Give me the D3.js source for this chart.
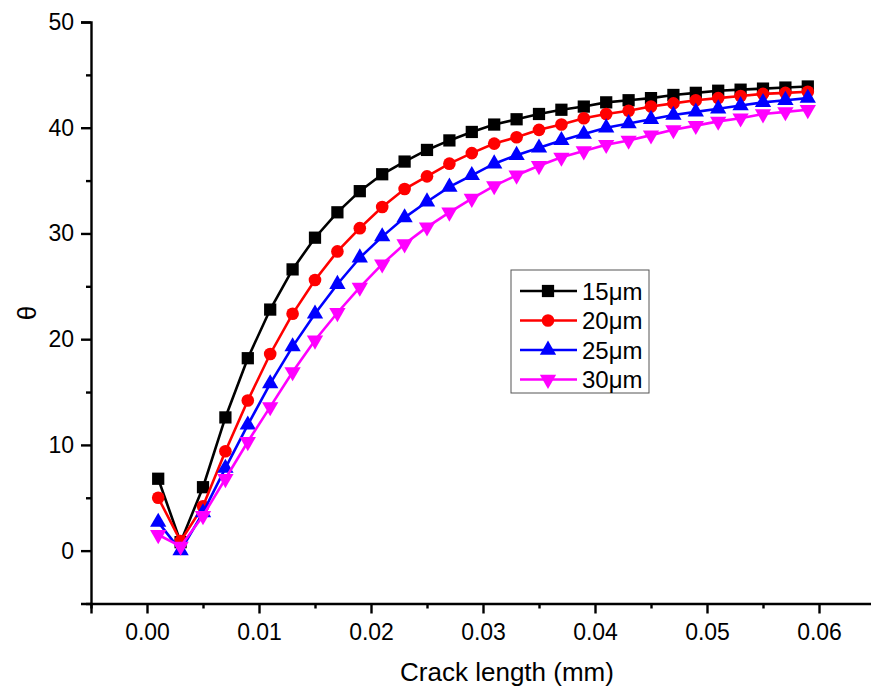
<!DOCTYPE html>
<html><head><meta charset="utf-8">
<script src="https://cdn.jsdelivr.net/npm/d3@7"></script>
<style>body{margin:0;background:#fff}svg{display:block}</style>
</head><body>
<script>
const crackLength = [0.001,0.003,0.005,0.007,0.009,0.011,0.013,0.015,0.017,0.019,0.021,0.023,0.025,0.027,0.029,0.031,0.033,0.035,0.037,0.039,0.041,0.043,0.045,0.047,0.049,0.051,0.053,0.055,0.057,0.059];
const theta15 = [6.8,0.8,6.0,12.6,18.2,22.8,26.6,29.6,32.0,34.0,35.6,36.8,37.9,38.8,39.6,40.3,40.8,41.3,41.7,42.0,42.4,42.6,42.8,43.1,43.3,43.5,43.6,43.7,43.8,43.9];
const theta20 = [5.0,0.9,4.2,9.4,14.2,18.6,22.4,25.6,28.3,30.5,32.5,34.2,35.4,36.6,37.6,38.5,39.1,39.8,40.3,40.9,41.3,41.6,42.0,42.3,42.6,42.8,43.0,43.2,43.3,43.4];
const theta25 = [2.7,0.0,3.6,7.8,11.9,15.8,19.3,22.4,25.2,27.7,29.7,31.5,33.0,34.4,35.5,36.6,37.4,38.1,38.8,39.4,40.0,40.4,40.8,41.2,41.5,41.8,42.1,42.4,42.6,42.8];
const theta30 = [1.5,0.4,3.3,6.8,10.3,13.6,16.9,19.9,22.5,24.9,27.1,29.0,30.6,32.0,33.3,34.5,35.5,36.4,37.2,37.8,38.4,38.8,39.3,39.8,40.2,40.6,40.9,41.3,41.5,41.7];
const seriesNames = ["15μm","20μm","25μm","30μm"];
const xTickLabels = ["0.00","0.01","0.02","0.03","0.04","0.05","0.06"];
const yTickLabels = ["0","10","20","30","40","50"];

const seriesValues = [theta15, theta20, theta25, theta30];
const colors = ["#000000","#ff0000","#0000ff","#ff00ff"];
const symbols = [d3.symbolSquare, d3.symbolCircle, d3.symbolTriangle, d3.symbolTriangle];
const symSizes = [150, 125, 115, 115];
const symRot = [0,0,0,180];

const W = 871, H = 689;
const svg = d3.select("body").append("svg").attr("width", W).attr("height", H);
const font = "'Liberation Sans', Arial, sans-serif";

const x = d3.scaleLinear().domain([-0.005, 0.065]).range([91, 875]);
const y = d3.scaleLinear().domain([-5, 50]).range([603.5, 22]);

const xMajor = xTickLabels.map(Number);
const xMinor = d3.range(-0.005, 0.0651, 0.01).map(v => +v.toFixed(3));
const yMajor = yTickLabels.map(Number);
const yMinor = [-5,5,15,25,35,45];

const gx = svg.append("g").attr("transform", `translate(0,${y(-5)})`);
gx.call(d3.axisBottom(x).tickValues(xMajor).tickSize(10).tickPadding(10)
  .tickFormat((d,i)=>xTickLabels[i]));
gx.append("g").call(d3.axisBottom(x).tickValues(xMinor).tickSize(5).tickFormat(""))
  .select(".domain").remove();

const gy = svg.append("g").attr("transform", `translate(${x(-0.005)},0)`);
gy.call(d3.axisLeft(y).tickValues(yMajor).tickSize(10).tickPadding(7)
  .tickFormat((d,i)=>yTickLabels[i]));
gy.append("g").call(d3.axisLeft(y).tickValues(yMinor).tickSize(5).tickFormat(""))
  .select(".domain").remove();

svg.selectAll(".domain").attr("stroke","#000").attr("stroke-width",2.4);
svg.selectAll(".tick line").attr("stroke","#000").attr("stroke-width",2.4);
svg.selectAll(".tick text").attr("font-family",font).attr("font-size",23).attr("fill","#000");

svg.append("text").attr("x", 507).attr("y", 681).attr("text-anchor","middle")
  .attr("font-family",font).attr("font-size",26).text("Crack length (mm)");
svg.append("text").attr("transform","translate(36,313) rotate(-90)").attr("text-anchor","middle")
  .attr("font-family",font).attr("font-size",26).text("θ");

const line = d3.line().x((d,i)=>x(crackLength[i])).y(d=>y(d));
seriesValues.forEach((vals, s) => {
  const g = svg.append("g");
  g.append("path").datum(vals).attr("d", line).attr("fill","none")
    .attr("stroke", colors[s]).attr("stroke-width", 2.6);
  g.selectAll("path.m").data(vals).enter().append("path").attr("class","m")
    .attr("d", d3.symbol().type(symbols[s]).size(symSizes[s]))
    .attr("transform", (d,i)=>`translate(${x(crackLength[i])},${y(d)}) rotate(${symRot[s]})`)
    .attr("fill", colors[s]);
});

const lg = svg.append("g");
lg.append("rect").attr("x",511).attr("y",270).attr("width",138).attr("height",123)
  .attr("fill","#fff").attr("stroke","#555").attr("stroke-width",1);
seriesNames.forEach((n, s) => {
  const cy = 291 + s*29.5;
  lg.append("line").attr("x1",520).attr("x2",577).attr("y1",cy).attr("y2",cy)
    .attr("stroke",colors[s]).attr("stroke-width",2.6);
  lg.append("path").attr("d", d3.symbol().type(symbols[s]).size(symSizes[s]))
    .attr("transform",`translate(548,${cy}) rotate(${symRot[s]})`).attr("fill",colors[s]);
  lg.append("text").attr("x",582).attr("y",cy+8.5).attr("font-family",font)
    .attr("font-size",24).text(n);
});
</script>
</body></html>
